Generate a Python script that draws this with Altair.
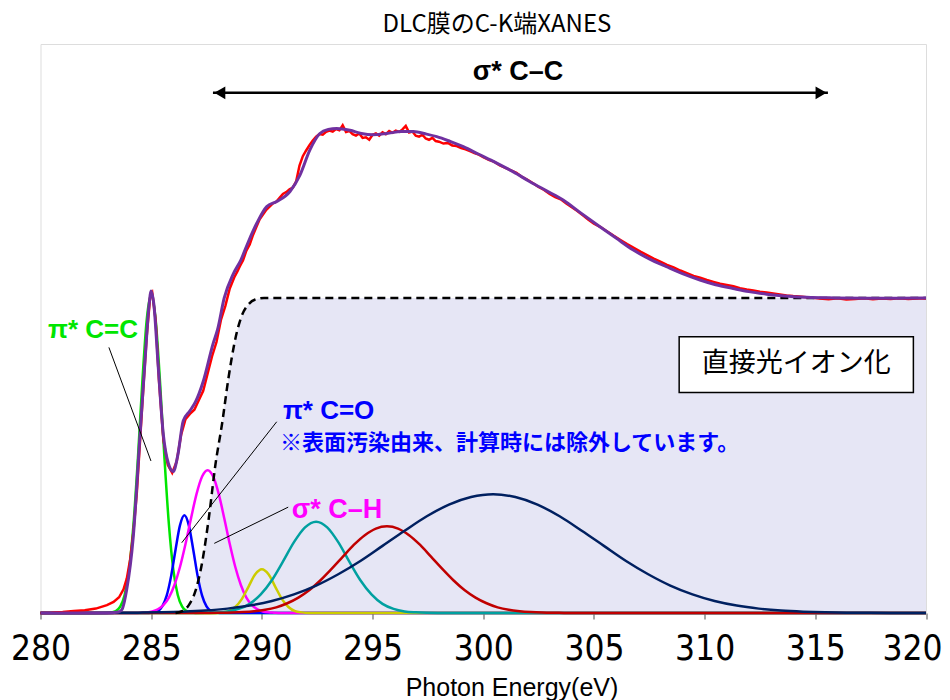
import altair as alt
import pandas as pd

# ---------------- data ----------------
# pi* C=C (green)
green_x = [280, 283.0, 283.2, 283.4, 283.6, 283.8, 284.0, 284.2, 284.4, 284.6, 284.8, 285.0,
           285.2, 285.4, 285.6, 285.8, 286.0, 286.2, 286.4, 286.6, 286.8, 287.0, 320]
green_y = [0, 0, 0.002, 0.006, 0.020, 0.057, 0.137, 0.281, 0.491, 0.733, 0.932, 1.01,
           0.932, 0.733, 0.491, 0.281, 0.137, 0.057, 0.020, 0.006, 0.002, 0, 0]
# pi* C=O (blue)
blue_x = [280, 284.9, 285.1, 285.3, 285.5, 285.7, 285.9, 286.1, 286.3, 286.5, 286.7, 286.9,
          287.1, 287.3, 287.5, 287.7, 287.9, 288.1, 320]
blue_y = [0, 0, 0.002, 0.006, 0.021, 0.055, 0.117, 0.201, 0.278, 0.31, 0.278, 0.201,
          0.117, 0.055, 0.021, 0.006, 0.002, 0, 0]
# sigma* C-H (magenta)
mag_x = [280, 284.3, 284.55, 284.8, 285.05, 285.3, 285.55, 285.8, 286.05, 286.3, 286.55, 286.8,
         287.05, 287.3, 287.55, 287.8, 288.05, 288.3, 288.55, 288.8, 289.05, 289.3, 289.55,
         289.8, 290.05, 290.3, 290.55, 290.8, 320]
mag_y = [0, 0, 0.001, 0.002, 0.005, 0.012, 0.025, 0.049, 0.089, 0.146, 0.219, 0.301,
         0.378, 0.433, 0.453, 0.433, 0.378, 0.301, 0.219, 0.146, 0.089, 0.049, 0.025,
         0.012, 0.005, 0.002, 0.001, 0, 0]
# yellow peak
yel_x = [280, 287.9, 288.2, 288.5, 288.8, 289.1, 289.4, 289.7, 290.0, 290.3, 290.6, 290.9,
         291.2, 291.5, 291.8, 292.1, 320]
yel_y = [0, 0, 0.002, 0.006, 0.019, 0.045, 0.084, 0.123, 0.139, 0.123, 0.084, 0.045,
         0.019, 0.006, 0.002, 0, 0]
# teal peak
teal_x = [280, 286.95, 287.45, 287.95, 288.45, 288.95, 289.45, 289.95, 290.45, 290.95, 291.45,
          291.95, 292.45, 292.95, 293.45, 293.95, 294.45, 294.95, 295.45, 295.95, 296.45,
          296.95, 297.45, 297.95, 320]
teal_y = [0, 0, 0.0005, 0.002, 0.005, 0.013, 0.029, 0.059, 0.104, 0.163, 0.225,
          0.272, 0.29, 0.272, 0.225, 0.163, 0.104, 0.059, 0.029, 0.013, 0.005,
          0.002, 0.0005, 0, 0]
# dark red peak
dred_x = [280, 286.65, 287.65, 288.15, 288.65, 289.15, 289.65, 290.15, 290.65, 291.15, 291.65,
          292.15, 292.65, 293.15, 293.65, 294.15, 294.65, 295.15, 295.65, 296.15, 296.65,
          297.15, 297.65, 298.15, 298.65, 299.15, 299.65, 300.15, 300.65, 301.15, 301.65,
          302.15, 302.65, 303.15, 303.65, 304.65, 320]
dred_y = [0, 0, 0.0003, 0.0006, 0.0014, 0.003, 0.0056, 0.010, 0.018, 0.031, 0.049,
          0.073, 0.104, 0.140, 0.178, 0.216, 0.247, 0.268, 0.275, 0.268, 0.247,
          0.216, 0.178, 0.140, 0.104, 0.073, 0.049, 0.031, 0.018, 0.010, 0.0056,
          0.003, 0.0014, 0.0006, 0.0003, 0, 0]
# navy peak
navy_x = [280, 281.45, 282.45, 283.45, 284.45, 285.45, 286.45, 287.45, 288.45, 289.45, 290.45,
          291.45, 292.45, 293.45, 294.45, 295.45, 296.45, 297.45, 298.45, 299.45, 300.45,
          301.45, 302.45, 303.45, 304.45, 305.45, 306.45, 307.45, 308.45, 309.45, 310.45,
          311.45, 312.45, 313.45, 314.45, 315.45, 316.45, 317.45, 318.45, 319.45, 320]
navy_y = [0, 0.0001, 0.0002, 0.0005, 0.0011, 0.0021, 0.0042, 0.0078, 0.0139, 0.0235, 0.038,
          0.059, 0.087, 0.123, 0.165, 0.213, 0.261, 0.307, 0.344, 0.368, 0.377,
          0.368, 0.344, 0.307, 0.261, 0.213, 0.165, 0.123, 0.087, 0.059, 0.038,
          0.0235, 0.0139, 0.0078, 0.0042, 0.0021, 0.0011, 0.0005, 0.0002, 0.0001, 0.0001]
# ionisation step (dashed, filled)
step_x = [286.1, 286.4, 286.7, 287.0, 287.3, 287.6, 287.9, 288.2, 288.5, 288.8, 289.1,
          289.4, 289.7, 290.1, 320]
step_y = [0, 0.006, 0.025, 0.07, 0.16, 0.30, 0.47, 0.60, 0.75, 0.87, 0.945,
          0.98, 0.995, 1.0, 1.0]
# measured spectrum (red)
data_x = [280, 280.5, 281.0, 281.5, 282.0, 282.5, 283.0, 283.3, 283.55, 283.75, 283.9, 284.05,
          284.2, 284.35, 284.5, 284.65, 284.8, 284.95, 285.05, 285.2, 285.35, 285.55, 285.75,
          285.95, 286.15, 286.35, 286.55, 286.75, 286.95, 287.15, 287.35, 287.55, 287.75,
          287.95, 288.15, 288.35, 288.55, 288.75, 288.9, 289.0, 289.15, 289.3, 289.45, 289.6,
          289.75, 289.9, 290.05, 290.2, 290.35, 290.5, 290.65, 290.8, 290.95, 291.1, 291.25,
          291.4, 291.55, 291.7, 291.85, 292.0, 292.15, 292.3, 292.45, 292.6, 292.75, 292.9,
          293.05, 293.2, 293.35, 293.5, 293.65, 293.8, 293.95, 294.1, 294.25, 294.4, 294.55,
          294.7, 294.85, 295.0, 295.15, 295.3, 295.45, 295.6, 295.75, 295.9, 296.05, 296.2,
          296.35, 296.5, 296.65, 296.8, 296.95, 297.1, 297.25, 297.4, 297.55, 297.7, 297.85,
          298.0, 298.2, 298.4, 298.6, 298.8, 299.0, 299.2, 299.4, 299.6, 299.8, 300.0, 300.25,
          300.5, 300.75, 301.0, 301.25, 301.5, 301.75, 302.0, 302.25, 302.5, 302.75, 303.0,
          303.25, 303.5, 303.75, 304.0, 304.25, 304.5, 304.75, 305.0, 305.3, 305.6, 305.9,
          306.2, 306.5, 306.8, 307.1, 307.4, 307.7, 308.0, 308.3, 308.6, 308.9, 309.2, 309.5,
          309.8, 310.1, 310.4, 310.7, 311.0, 311.3, 311.6, 311.9, 312.2, 312.5, 312.8, 313.1,
          313.4, 313.7, 314.0, 314.4, 314.8, 315.2, 315.6, 316.0, 316.4, 316.8, 317.2, 317.6,
          318.0, 318.4, 318.8, 319.2, 319.6, 320.0]
data_y = [0.0, 0.001, 0.003, 0.006, 0.009, 0.014, 0.025, 0.035, 0.05, 0.075, 0.11, 0.17,
          0.26, 0.38, 0.55, 0.72, 0.88, 1.0, 1.015, 0.93, 0.74, 0.55, 0.47,
          0.445, 0.48, 0.565, 0.615, 0.632, 0.645, 0.675, 0.705, 0.76, 0.815,
          0.86, 0.93, 0.975, 1.03, 1.065, 1.085, 1.10, 1.12, 1.15, 1.17, 1.20,
          1.225, 1.25, 1.265, 1.28, 1.29, 1.30, 1.305, 1.318, 1.33, 1.336, 1.345,
          1.35, 1.37, 1.42, 1.45, 1.468, 1.485, 1.50, 1.512, 1.52, 1.518, 1.527,
          1.531, 1.528, 1.536, 1.532, 1.548, 1.527, 1.53, 1.52, 1.515, 1.522, 1.508,
          1.51, 1.502, 1.518, 1.522, 1.515, 1.526, 1.52, 1.53, 1.524, 1.531, 1.527,
          1.535, 1.546, 1.525, 1.528, 1.515, 1.512, 1.518, 1.506, 1.502, 1.508, 1.498,
          1.496, 1.49, 1.492, 1.484, 1.482, 1.476, 1.472, 1.466, 1.46, 1.455, 1.447, 1.438,
          1.432, 1.421, 1.413, 1.405, 1.397, 1.384, 1.375, 1.364, 1.352, 1.343, 1.33,
          1.32, 1.313, 1.30, 1.288, 1.276, 1.262, 1.248, 1.236, 1.225, 1.211, 1.197,
          1.184, 1.171, 1.159, 1.147, 1.136, 1.125, 1.115, 1.105, 1.097, 1.087, 1.079, 1.07,
          1.064, 1.057, 1.051, 1.045, 1.041, 1.037, 1.031, 1.027, 1.024, 1.02, 1.017, 1.014,
          1.011, 1.008, 1.006, 1.004, 1.001, 0.998, 0.996, 0.999, 0.995, 0.997, 0.999, 0.996,
          0.998, 0.997, 0.999, 0.997, 0.998, 0.998]
# fitted sum (purple)
fit_x = [280, 283.0, 283.5, 283.67, 283.89, 284.19, 284.49, 284.72, 284.9, 285.0, 285.12,
         285.32, 285.55, 285.77, 286.0, 286.2, 286.45, 286.75, 287.0, 287.35, 287.8, 288.0,
         288.3, 288.7, 289.05, 289.4, 289.77, 290.22, 290.67, 291.27, 291.72, 292.17, 292.62,
         293.0, 293.38, 293.98, 294.5, 295.0, 295.64, 296.3, 296.84, 297.44, 297.9, 298.5,
         299.1, 299.8, 300.61, 301.36, 302.11, 302.86, 303.61, 304.4, 305.27, 306.0, 306.78,
         307.5, 308.28, 309.0, 309.79, 310.5, 311.29, 312.0, 312.8, 313.6, 314.61, 315.8,
         317.32, 320]
fit_y = [0.0, 0.0, 0.003, 0.01, 0.073, 0.242, 0.56, 0.80, 0.975, 1.022, 0.98,
         0.78, 0.565, 0.476, 0.449, 0.50, 0.61, 0.642, 0.67, 0.735, 0.856, 0.90,
         1.0, 1.075, 1.12, 1.18, 1.237, 1.29, 1.306, 1.338, 1.39, 1.47, 1.522,
         1.535, 1.538, 1.532, 1.522, 1.518, 1.522, 1.528, 1.528, 1.52, 1.512, 1.497,
         1.48, 1.456, 1.428, 1.40, 1.369, 1.34, 1.311, 1.27, 1.226, 1.19, 1.152,
         1.124, 1.099, 1.077, 1.057, 1.042, 1.03, 1.02, 1.012, 1.006, 1.002, 1.0,
         0.999, 1.0]

x_ticks = [280, 285, 290, 295, 300, 305, 310, 315, 320]

# ---------------- chart ----------------
def frame(xs, ys):
    return pd.DataFrame({"E": xs, "I": ys})

NARROW = "Liberation Sans Narrow, DejaVu Sans Condensed, Liberation Sans"

X = alt.X("E:Q", scale=alt.Scale(domain=[280, 320], nice=False, zero=False),
          axis=alt.Axis(values=x_ticks, title="Photon Energy(eV)", format="d",
                        labelFont=NARROW, labelFontSize=35, labelColor="black",
                        labelPadding=12, labelFlush=False, labelOverlap=False,
                        labelAlign=alt.ExprRef("datum.value == 320 ? 'right' : 'center'"),
                        labelOffset=alt.ExprRef("datum.value == 320 ? 16 : 0"),
                        tickSize=6, tickColor="#888888", tickWidth=1.5,
                        domain=False, grid=False, titleFont="Liberation Sans",
                        titleFontSize=25, titleFontWeight="normal", titleColor="black",
                        titlePadding=9, titleX=471))
Y = alt.Y("I:Q", scale=alt.Scale(domain=[0, 1.806], nice=False, zero=True), axis=None)

layers = []
layers.append(alt.Chart(frame(step_x, step_y)).mark_area(color="#e6e6f5", interpolate="monotone")
              .encode(x=X, y=Y))

series = [
    (green_x, green_y, "#00e600"),
    (blue_x, blue_y, "#0000ff"),
    (mag_x, mag_y, "#ff00ff"),
    (yel_x, yel_y, "#cccc00"),
    (teal_x, teal_y, "#00a0a0"),
    (dred_x, dred_y, "#c00000"),
    (navy_x, navy_y, "#002060"),
]
for xs, ys, col in series:
    layers.append(alt.Chart(frame(xs, ys)).mark_line(color=col, strokeWidth=2.5,
                                                     interpolate="monotone")
                  .encode(x=X, y=Y))

layers.append(alt.Chart(frame(step_x, step_y)).mark_line(color="black", strokeWidth=2.5,
                                                         strokeDash=[8, 5],
                                                         interpolate="monotone")
              .encode(x=X, y=Y))
layers.append(alt.Chart(frame(data_x, data_y)).mark_line(color="#ff0000", strokeWidth=2.5,
                                                         interpolate="linear")
              .encode(x=X, y=Y))
layers.append(alt.Chart(frame(fit_x, fit_y)).mark_line(color="#7030a0", strokeWidth=3,
                                                       interpolate="monotone")
              .encode(x=X, y=Y))

# leader lines
leaders = pd.DataFrame({
    "E": [283.09, 290.67, 291.19],
    "I": [0.843, 0.607, 0.336],
    "E2": [284.99, 286.38, 287.85],
    "I2": [0.4825, 0.223, 0.221],
})
layers.append(alt.Chart(leaders).mark_rule(color="black", strokeWidth=1)
              .encode(x=X, y=Y, x2="E2:Q", y2="I2:Q"))

# double arrow for sigma* C-C
arrow = pd.DataFrame({"E": [287.79], "E2": [315.57], "I": [1.651]})
layers.append(alt.Chart(arrow).mark_rule(color="black", strokeWidth=2.5)
              .encode(x=X, x2="E2:Q", y=Y))
heads = pd.DataFrame({"E": [288.1, 315.26], "I": [1.651, 1.651],
                      "s": ["triangle-left", "triangle-right"]})
layers.append(alt.Chart(heads).mark_point(filled=True, color="black", opacity=1, size=160)
              .encode(x=X, y=Y, shape=alt.Shape("s:N", scale=None, legend=None)))

# box for direct photoionisation
box = pd.DataFrame({"E": [308.85], "E2": [319.43], "I": [0.70], "I2": [0.877]})
layers.append(alt.Chart(box).mark_rect(fill="white", stroke="black", strokeWidth=1.5)
              .encode(x=X, x2="E2:Q", y=Y, y2="I2:Q"))

def label(text, e, i, color, size, weight="bold", align="left", font="Noto Sans CJK JP"):
    d = pd.DataFrame({"E": [e], "I": [i], "t": [text]})
    return (alt.Chart(d).mark_text(align=align, baseline="middle", color=color, fontSize=size,
                                   fontWeight=weight, font=font)
            .encode(x=X, y=Y, text="t:N"))

layers.append(label("直接光イオン化", 314.14, 0.789, "black", 27, weight="normal", align="center"))
layers.append(label("σ* C–C", 301.57, 1.717, "black", 27, align="center", font="Liberation Sans"))
layers.append(label("π* C=C", 280.34, 0.898, "#00e600", 26, font="Liberation Sans"))
layers.append(label("π* C=O", 290.95, 0.641, "#0000ff", 26, font="Liberation Sans"))
layers.append(label("※表面汚染由来、計算時には除外しています。", 290.82, 0.54, "#0000ff", 22))
layers.append(label("σ* C–H", 291.35, 0.327, "#ff00ff", 27, font="Liberation Sans"))

# chart title drawn as text above the frame
title_df = pd.DataFrame({"t": ["DLC膜のC-K端XANES"]})
layers.append(alt.Chart(title_df).mark_text(align="center", baseline="middle", fontSize=24,
                                            font="Noto Sans CJK JP", color="black")
              .encode(x=alt.value(456.5), y=alt.value(-19), text="t:N"))

chart = (alt.layer(*layers)
         .properties(width=885.5, height=569,
                     autosize=alt.AutoSizeParams(type="none"),
                     padding={"left": 32.5, "top": 36, "right": 16, "bottom": 92})
         .configure_view(stroke="black", strokeWidth=2)
         .configure(background="white"))

chart.save("out.html", embed_options={"renderer": "svg", "actions": False})
